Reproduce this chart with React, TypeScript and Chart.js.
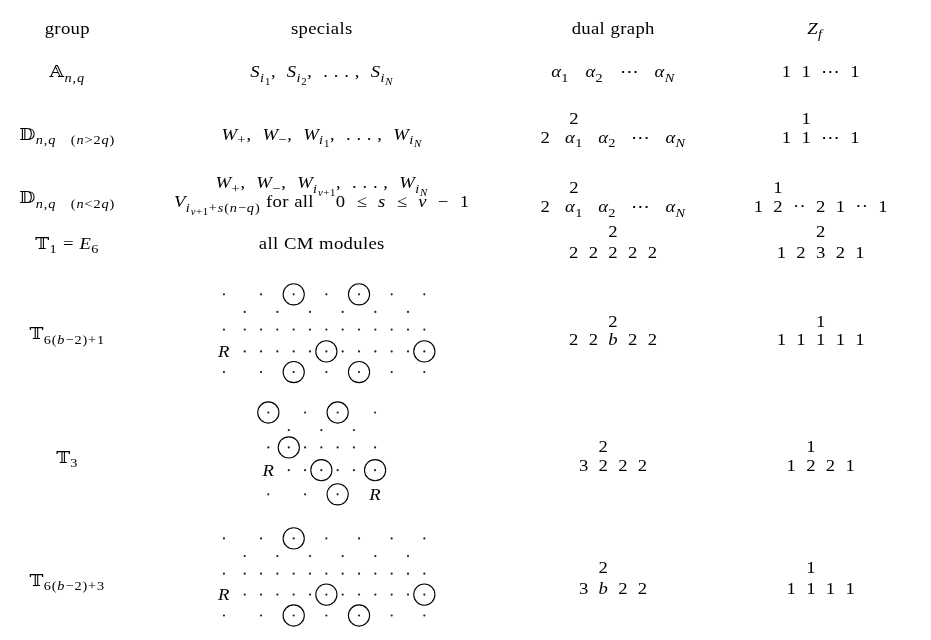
import { useEffect, useRef } from "react";
import { Chart, registerables } from "chart.js";

Chart.register(...registerables);

// ---------------- data ----------------
const HEADERS = ["[group]", "[specials]", "[dual graph]", "Z_{f}"];

const GROUPS = [
  "𝔸_{n,q}",
  "𝔻_{n,q    (n>2q)}",
  "𝔻_{n,q    (n<2q)}",
  "𝕋_{1} = E_{6}",
  "𝕋_{6(b−2)+1}",
  "𝕋_{3}",
  "𝕋_{6(b−2)+3}",
];

const SPECIALS: (string[] | null)[] = [
  ["S_{i_{1}},  S_{i_{2}},  . . . ,  S_{i_{N}}"],
  ["W_{+},  W_{−},  W_{i_{1}},  . . . ,  W_{i_{N}}"],
  ["W_{+},  W_{−},  W_{i_{ν+1}},  . . . ,  W_{i_{N}}", "V_{i_{ν+1}+s(n−q)} [for all]    0  ≤  s  ≤  ν  −  1"],
  ["[all CM modules]"],
  null,
  null,
  null,
];

// dot diagrams: "." dot, "o" circled dot, "R" letter, " " empty
const PATTERN_T6_1 = [". . o . o . .", " . . . . . . ", ".............", "R.....o.....o", ". . o . o . ."];
const PATTERN_T3 = ["o . o .", " . . . ", ".o.....", "R..o..o", ". . o R"];
const PATTERN_T6_3 = [". . o . . . .", " . . . . . . ", ".............", "R.....o.....o", ". . o . o . ."];

const DUAL_BOTTOM = [
  ["α_{1}", "α_{2}", "⋯", "α_{N}"],
  ["2", "α_{1}", "α_{2}", "⋯", "α_{N}"],
  ["2", "α_{1}", "α_{2}", "⋯", "α_{N}"],
  ["2", "2", "2", "2", "2"],
  ["2", "2", "b", "2", "2"],
  ["3", "2", "2", "2"],
  ["3", "b", "2", "2"],
];
const DUAL_TOP_LABEL = [null, "2", "2", "2", "2", "2", "2"];
const DUAL_TOP_INDEX = [-1, 1, 1, 2, 2, 1, 1];

const Z_BOTTOM = [
  ["1", "1", "⋯", "1"],
  ["1", "1", "⋯", "1"],
  ["1", "2", "··", "2", "1", "··", "1"],
  ["1", "2", "3", "2", "1"],
  ["1", "1", "1", "1", "1"],
  ["1", "2", "2", "1"],
  ["1", "1", "1", "1"],
];
const Z_TOP_LABEL = [null, "1", "1", "2", "1", "1", "1"];
const Z_TOP_INDEX = [-1, 1, 1, 2, 2, 1, 1];

// ---------------- layout ----------------
const W = 931;
const H = 640;
const COL_X = [57, 318, 617, 830];
const HEADER_X = [57, 318, 617, 824];
const HEADER_Y = 17;
const GROUP_Y = [62, 127, 193, 240, 334, 462, 590];
const SPECIAL_Y: (number[] | null)[] = [[62], [127], [177, 197], [240], null, null, null];
const GRAPH_TOP_Y = [0, 111, 182, 228, 321, 451, 577];
const GRAPH_BOT_Y = [62, 130, 202, 250, 340, 471, 598];
const DUAL_GAP = [16, 15, 15, 10, 10, 10, 10];
const Z_GAP = 10;

const PATTERNS = [
  { rows: PATTERN_T6_1, cx: 320.5, y0: 293.3, gaps: [21.3, 16.75], rowGaps: [18.3, 18.3, 22.7, 21.4] },
  { rows: PATTERN_T3, cx: 318, y0: 416, gaps: [21, 16.7, 16.7, 16.7, 16.7, 21.7], rowGaps: [18.3, 18, 23.6, 25] },
  { rows: PATTERN_T6_3, cx: 320.5, y0: 546.7, gaps: [21.3, 16.75], rowGaps: [18.3, 18.3, 21.7, 21.7] },
];

const FONT = '"Liberation Serif", "DejaVu Serif", serif';
const SIZES = [17, 13, 9.8];
const SHIFTS = [0, 4.5, 7.5];
const TRACK = [0.3, 0.9, 0.6];
const SPACE = [5.5, 3.6, 2.6];
const STRETCH = 1.1;
const BASE_OFF = 6;

type Run = { t: string; italic: boolean; level: number };

function matchBrace(s: string, open: number) {
  let d = 0;
  for (let j = open; j < s.length; j++) {
    if (s[j] === "{") d++;
    else if (s[j] === "}") {
      d--;
      if (d === 0) return j;
    }
  }
  return s.length;
}

function parse(s: string, level = 0, text = false): Run[] {
  const out: Run[] = [];
  let i = 0;
  while (i < s.length) {
    const ch = s[i];
    if (ch === "_" && s[i + 1] === "{") {
      const end = matchBrace(s, i + 1);
      out.push(...parse(s.slice(i + 2, end), Math.min(level + 1, 2), text));
      i = end + 1;
      continue;
    }
    if (ch === "[") {
      const end = s.indexOf("]", i);
      out.push(...parse(s.slice(i + 1, end), level, true));
      i = end + 1;
      continue;
    }
    const cp = s.codePointAt(i)!;
    const str = String.fromCodePoint(cp);
    const italic = !text && /[A-Za-z\u03B1-\u03C9]/.test(str);
    out.push({ t: str, italic, level });
    i += str.length;
  }
  return out;
}

function fontFor(r: Run) {
  return `${r.italic ? "italic " : ""}${SIZES[r.level]}px ${FONT}`;
}

function charWidth(ctx: CanvasRenderingContext2D, r: Run) {
  if (r.t === " ") return SPACE[r.level];
  ctx.font = fontFor(r);
  return ctx.measureText(r.t).width * STRETCH + TRACK[r.level];
}

function measureMath(ctx: CanvasRenderingContext2D, s: string) {
  return parse(s).reduce((a, r) => a + charWidth(ctx, r), 0);
}

function drawMath(ctx: CanvasRenderingContext2D, s: string, cx: number, baseline: number) {
  const runs = parse(s);
  const total = runs.reduce((a, r) => a + charWidth(ctx, r), 0);
  let x = cx - total / 2;
  ctx.textAlign = "left";
  ctx.textBaseline = "alphabetic";
  for (const r of runs) {
    const w = charWidth(ctx, r);
    if (r.t !== " ") {
      ctx.font = fontFor(r);
      ctx.save();
      ctx.translate(x, baseline + SHIFTS[r.level]);
      ctx.scale(STRETCH, 1);
      ctx.fillText(r.t, 0, 0);
      ctx.restore();
    }
    x += w;
  }
}

function patternCols(p: { rows: string[]; gaps: number[] }) {
  const n = p.rows[0].length;
  const xs = [0];
  for (let k = 1; k < n; k++) {
    const g = k - 1 < p.gaps.length ? p.gaps[k - 1] : p.gaps[p.gaps.length - 1];
    xs.push(xs[k - 1] + g);
  }
  return xs;
}

function patternCells(kind: string) {
  const pts: { x: number; y: number }[] = [];
  for (const p of PATTERNS) {
    const xs = patternCols(p);
    const left = p.cx - xs[xs.length - 1] / 2;
    let y = p.y0;
    p.rows.forEach((row, ri) => {
      if (ri > 0) y += p.rowGaps[ri - 1];
      for (let c = 0; c < row.length; c++) {
        const ch = row[c];
        if (kind === "dot" && (ch === "." || ch === "o")) pts.push({ x: left + xs[c], y });
        if (kind === "circle" && ch === "o") pts.push({ x: left + xs[c], y });
        if (kind === "R" && ch === "R") pts.push({ x: left + xs[c], y });
      }
    });
  }
  return pts;
}

const textPlugin = {
  id: "tableText",
  afterDatasetsDraw(chart: any) {
    const ctx: CanvasRenderingContext2D = chart.ctx;
    const sx = chart.scales.x;
    const sy = chart.scales.y;
    const px = (v: number) => sx.getPixelForValue(v);
    const py = (v: number) => sy.getPixelForValue(v);
    ctx.save();
    ctx.fillStyle = "#000";

    HEADERS.forEach((h, i) => drawMath(ctx, h, px(HEADER_X[i]), py(HEADER_Y + BASE_OFF)));

    GROUPS.forEach((g, i) => drawMath(ctx, g, px(COL_X[0]), py(GROUP_Y[i] + BASE_OFF)));

    SPECIALS.forEach((lines, i) => {
      if (!lines) return;
      const ys = SPECIAL_Y[i]!;
      lines.forEach((l, k) => drawMath(ctx, l, px(COL_X[1]), py(ys[k] + BASE_OFF)));
    });

    for (const r of patternCells("R")) drawMath(ctx, "R", px(r.x), py(r.y + BASE_OFF));

    const drawGraph = (tokens: string[], gap: number, cx: number, by: number, top: string | null, idx: number, ty: number) => {
      const ws = tokens.map((t) => measureMath(ctx, t));
      const total = ws.reduce((a, b) => a + b, 0) + gap * (tokens.length - 1);
      let x = cx - total / 2;
      const centers: number[] = [];
      tokens.forEach((t, k) => {
        centers.push(x + ws[k] / 2);
        drawMath(ctx, t, x + ws[k] / 2, by);
        x += ws[k] + gap;
      });
      if (top && idx >= 0) drawMath(ctx, top, centers[idx], ty);
    };

    DUAL_BOTTOM.forEach((tokens, i) =>
      drawGraph(tokens, DUAL_GAP[i], px(COL_X[2]), py(GRAPH_BOT_Y[i] + BASE_OFF), DUAL_TOP_LABEL[i], DUAL_TOP_INDEX[i], py(GRAPH_TOP_Y[i] + BASE_OFF))
    );
    Z_BOTTOM.forEach((tokens, i) =>
      drawGraph(tokens, Z_GAP, px(COL_X[3]), py(GRAPH_BOT_Y[i] + BASE_OFF), Z_TOP_LABEL[i], Z_TOP_INDEX[i], py(GRAPH_TOP_Y[i] + BASE_OFF))
    );
    ctx.restore();
  },
};

export default function App() {
  const ref = useRef<HTMLCanvasElement | null>(null);
  useEffect(() => {
    if (!ref.current) return;
    const chart = new Chart(ref.current, {
      type: "scatter",
      data: {
        datasets: [
          {
            label: "dots",
            data: patternCells("dot"),
            pointRadius: 1.1,
            pointBackgroundColor: "#222",
            pointBorderWidth: 0,
            pointHoverRadius: 1.1,
          },
          {
            label: "circles",
            data: patternCells("circle"),
            pointRadius: 10.6,
            pointBackgroundColor: "rgba(0,0,0,0)",
            pointBorderColor: "#000",
            pointBorderWidth: 1.1,
            pointHoverRadius: 10.6,
          },
        ],
      },
      options: {
        animation: false,
        responsive: true,
        maintainAspectRatio: false,
        events: [],
        layout: { padding: 0 },
        plugins: { legend: { display: false }, tooltip: { enabled: false } },
        scales: {
          x: { type: "linear", min: 0, max: W, display: false },
          y: { type: "linear", min: 0, max: H, reverse: true, display: false },
        },
      },
      plugins: [textPlugin],
    });
    return () => chart.destroy();
  }, []);
  return (
    <div style={{ position: "absolute", left: 0, top: 0, width: W, height: H, background: "#fff" }}>
      <canvas ref={ref} />
    </div>
  );
}
